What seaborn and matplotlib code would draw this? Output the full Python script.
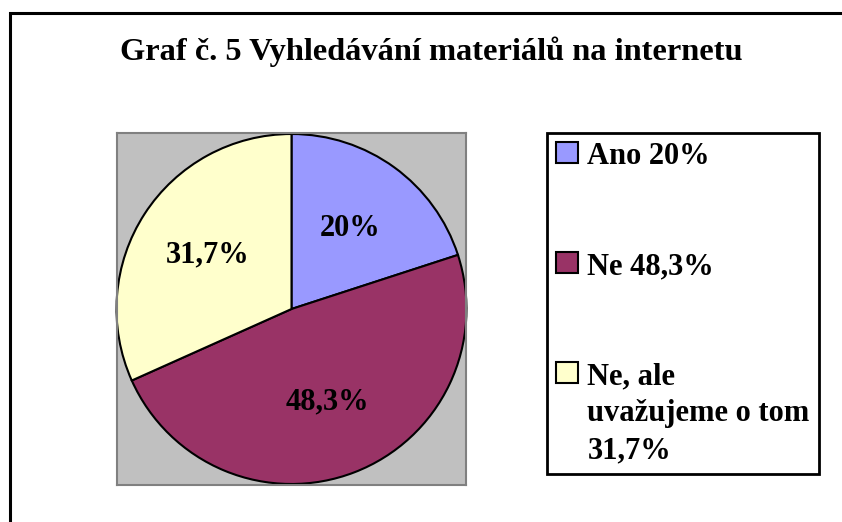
import matplotlib.pyplot as plt
import seaborn as sns
from matplotlib.patches import Rectangle

sns.set_theme(style="white")
plt.rcParams["font.family"] = ["Liberation Serif", "DejaVu Serif"]
plt.rcParams["font.weight"] = "bold"
plt.rcParams["text.color"] = "black"

labels = ["Ano 20%", "Ne 48,3%", "Ne, ale\nuvažujeme o tom\n31,7%"]
values = [20.0, 48.3, 31.7]
pct_labels = ["20%", "48,3%", "31,7%"]
colors = ["#9999FF", "#993366", "#FFFFCC"]

W, H = 842, 522
FS = 22

fig = plt.figure(figsize=(W / 100, H / 100), dpi=100, facecolor="white")

# outer chart frame
fig.patches.append(Rectangle((10 / W, -0.1), 1.2, 1 - 13 / H + 0.1, transform=fig.transFigure,
                             fill=False, ec="black", lw=2.2))

fig.text(431 / W, 1 - 52 / H, "Graf č. 5 Vyhledávání materiálů na internetu",
         ha="center", va="center", fontsize=23.3, weight="bold", color="black")

ax = fig.add_axes([117 / W, 1 - 485 / H, 349 / W, 352 / H])

wedges, texts, autotexts = ax.pie(values, colors=colors, startangle=90, counterclock=False,
                                  autopct="%1.1f%%", pctdistance=0.57,
                                  wedgeprops=dict(edgecolor="black", linewidth=1.5))
for t, lab in zip(autotexts, pct_labels):
    t.set_text(lab)
    t.set_fontsize(FS)
    t.set_fontweight("bold")
    t.set_color("black")
ax.set_frame_on(True)
ax.set_facecolor("#C0C0C0")
for s in ax.spines.values():
    s.set_visible(True)
    s.set_color("#808080")
    s.set_linewidth(1.5)
ax.set_aspect("auto")
ax.set_xlim(-349 / 350, 349 / 350)
ax.set_ylim(-352 / 350, 352 / 350)
ax.set_xticks([])
ax.set_yticks([])

leg = fig.legend(wedges, labels, loc="upper left", bbox_to_anchor=(547 / W, 1 - 133 / H),
                 borderaxespad=0, fontsize=FS, frameon=True, fancybox=False,
                 edgecolor="black", framealpha=1, handlelength=0.72, handleheight=0.68,
                 handletextpad=0.3, borderpad=0.3, labelspacing=2.65)
leg.get_frame().set_linewidth(2)
for t in leg.get_texts():
    t.set_fontweight("bold")
    t.set_color("black")
    t.set_linespacing(1.36)
# keep each marker level with the first line of its label
for item in leg._legend_handle_box.get_children()[0].get_children():
    item.align = "top"

fig.savefig("out.png", dpi=100, facecolor="white")
